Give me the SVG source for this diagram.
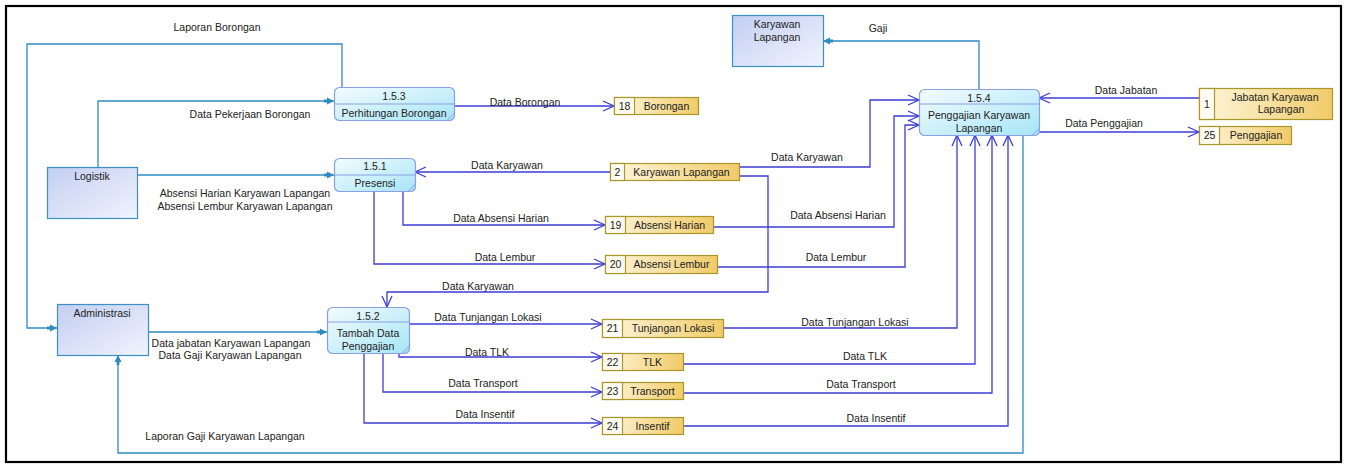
<svg xmlns="http://www.w3.org/2000/svg" width="1346" height="464" viewBox="0 0 1346 464">
<style>
text{font-family:"Liberation Sans",Arial,sans-serif;font-size:10.5px;fill:#222}
.c{text-anchor:middle}
.ent{fill:url(#gEnt);stroke:#3a8fc4;stroke-width:1.2}
.proc{fill:url(#gProc);stroke:#8a9fe6;stroke-width:1.2}
.st{fill:url(#gSt);stroke:#a8982c;stroke-width:1.2}
.stn{fill:#fffdf2;stroke:#a8982c;stroke-width:1.2}
.tl{fill:none;stroke:#2e8bc0;stroke-width:1.3;marker-end:url(#mT)}
.bl{fill:none;stroke:#3d3dd6;stroke-width:1.3;marker-end:url(#mB)}
.fold{stroke:#8a9fe6;stroke-width:1;fill:none}
</style>
<defs>
<linearGradient id="gEnt" x1="0" y1="0" x2="1" y2="1"><stop offset="0" stop-color="#c3cef2"/><stop offset="1" stop-color="#f1f4fd"/></linearGradient>
<linearGradient id="gProc" x1="0" y1="0" x2="1" y2="1"><stop offset="0" stop-color="#f4fcff"/><stop offset="1" stop-color="#a6e5f6"/></linearGradient>
<linearGradient id="gSt" x1="0" y1="0" x2="1" y2="0"><stop offset="0" stop-color="#fdf6de"/><stop offset="1" stop-color="#f1cb68"/></linearGradient>
<marker id="mT" markerUnits="userSpaceOnUse" markerWidth="14" markerHeight="10" refX="10" refY="5" orient="auto" viewBox="0 0 14 10">
<path d="M0,3.6 H4 V6.4 H0 Z M3,1.5 L10,5 L3,8.5 Z" fill="#2e8bc0"/>
</marker>
<marker id="mB" markerUnits="userSpaceOnUse" markerWidth="14" markerHeight="14" refX="12" refY="7" orient="auto" viewBox="0 0 14 14">
<path d="M1,2 L12,7 L1,12" fill="none" stroke="#3d3dd6" stroke-width="1.3"/>
</marker>
</defs>
<rect x="0" y="0" width="1346" height="464" fill="#fff"/>
<rect x="6" y="6" width="1335" height="456" fill="none" stroke="#000" stroke-width="2.2"/>

<g id="connectors">
<polyline class="tl" points="342,87 342,44 27,44 27,328 57,328"/>
<polyline class="tl" points="98,167 98,101 334,101"/>
<polyline class="tl" points="137,175 334,175"/>
<polyline class="tl" points="148,332 327,332"/>
<polyline class="tl" points="1023,135 1023,453 118,453 118,355"/>
<polyline class="tl" points="979,89 979,41 823,41"/>
<polyline class="bl" points="454,106 614,106"/>
<polyline class="bl" points="610,172 415,172"/>
<polyline class="bl" points="739,167 870,167 870,100 919,100"/>
<polyline class="bl" points="403,191 403,225 605,225"/>
<polyline class="bl" points="713,227 894,227 894,116 919,116"/>
<polyline class="bl" points="374,191 374,264 605,264"/>
<polyline class="bl" points="717,267 905,267 905,125 919,125"/>
<polyline class="bl" points="739,176 768,176 768,292 387,292 387,307"/>
<polyline class="bl" points="409,324 602,324"/>
<polyline class="bl" points="399,353 399,357 602,357"/>
<polyline class="bl" points="383,353 383,392 602,392"/>
<polyline class="bl" points="364,353 364,423 602,423"/>
<polyline class="bl" points="723,328 957,328 957,135"/>
<polyline class="bl" points="683,364 975,364 975,135"/>
<polyline class="bl" points="683,393 992,393 992,135"/>
<polyline class="bl" points="683,426 1008,426 1008,135"/>
<polyline class="bl" points="1199,98 1039,98"/>
<polyline class="bl" points="1039,132 1199,132"/>
<text class="c" x="217" y="31">Laporan Borongan</text>
<text class="c" x="250" y="117.5">Data Pekerjaan Borongan</text>
<text class="c" x="245" y="196.5">Absensi Harian Karyawan Lapangan</text>
<text class="c" x="245" y="209.5">Absensi Lembur Karyawan Lapangan</text>
<text class="c" x="231" y="346.5">Data jabatan Karyawan Lapangan</text>
<text class="c" x="230" y="359">Data Gaji Karyawan Lapangan</text>
<text class="c" x="225" y="439.5">Laporan Gaji Karyawan Lapangan</text>
<text class="c" x="878" y="31.5">Gaji</text>
<text class="c" x="525" y="105.5">Data Borongan</text>
<text class="c" x="507" y="168.5">Data Karyawan</text>
<text class="c" x="807" y="160.5">Data Karyawan</text>
<text class="c" x="501" y="221.5">Data Absensi Harian</text>
<text class="c" x="838" y="218.5">Data Absensi Harian</text>
<text class="c" x="505" y="260.5">Data Lembur</text>
<text class="c" x="836" y="260.5">Data Lembur</text>
<text class="c" x="478" y="289.5">Data Karyawan</text>
<text class="c" x="488" y="320.5">Data Tunjangan Lokasi</text>
<text class="c" x="487" y="355.5">Data TLK</text>
<text class="c" x="483" y="386.5">Data Transport</text>
<text class="c" x="485" y="417.5">Data Insentif</text>
<text class="c" x="855" y="325.5">Data Tunjangan Lokasi</text>
<text class="c" x="865" y="359.5">Data TLK</text>
<text class="c" x="861" y="387.5">Data Transport</text>
<text class="c" x="876" y="421.5">Data Insentif</text>
<text class="c" x="1126" y="93.5">Data Jabatan</text>
<text class="c" x="1104" y="126.5">Data Penggajian</text>
</g>

<g id="logistik">
<rect class="ent" x="47.5" y="167.5" width="90" height="51"/>
<text class="c" x="92" y="179.5">Logistik</text>
</g>
<g id="administrasi">
<rect class="ent" x="57.5" y="304.5" width="91" height="51"/>
<text class="c" x="102" y="316.5">Administrasi</text>
</g>
<g id="karyawan-lapangan-ext">
<rect class="ent" x="732.5" y="15.5" width="91" height="51"/>
<text class="c" x="777" y="27.5">Karyawan</text>
<text class="c" x="777" y="40.5">Lapangan</text>
</g>

<g id="p153">
<rect class="proc" x="334.5" y="87.5" width="120" height="33" rx="5"/>
<line class="fold" x1="334.5" y1="104" x2="454.5" y2="104"/>
<line class="fold" x1="447" y1="120.5" x2="454.5" y2="113"/>
<text class="c" x="394" y="99.5">1.5.3</text>
<text class="c" x="394" y="117">Perhitungan Borongan</text>
</g>
<g id="p151">
<rect class="proc" x="334.5" y="158.5" width="81" height="33" rx="5"/>
<line class="fold" x1="334.5" y1="175" x2="415.5" y2="175"/>
<line class="fold" x1="408" y1="191.5" x2="415.5" y2="184"/>
<text class="c" x="375" y="169.5">1.5.1</text>
<text class="c" x="375" y="186.5">Presensi</text>
</g>
<g id="p152">
<rect class="proc" x="327.5" y="307.5" width="82" height="46" rx="5"/>
<line class="fold" x1="327.5" y1="322" x2="409.5" y2="322"/>
<line class="fold" x1="402" y1="353.5" x2="409.5" y2="346"/>
<text class="c" x="368" y="319.5">1.5.2</text>
<text class="c" x="368" y="336.5">Tambah Data</text>
<text class="c" x="368" y="349.5">Penggajian</text>
</g>
<g id="p154">
<rect class="proc" x="919.5" y="89.5" width="120" height="46" rx="5"/>
<line class="fold" x1="919.5" y1="104" x2="1039.5" y2="104"/>
<line class="fold" x1="1032" y1="135.5" x2="1039.5" y2="128"/>
<text class="c" x="979" y="101.5">1.5.4</text>
<text class="c" x="979" y="118.5">Penggajian Karyawan</text>
<text class="c" x="979" y="131.5">Lapangan</text>
</g>

<g id="ds18">
<rect class="st" x="614.5" y="97.5" width="84" height="17"/>
<rect class="stn" x="614.5" y="97.5" width="20" height="17"/>
<text class="c" x="624.5" y="109.5">18</text>
<text class="c" x="666.5" y="109.5">Borongan</text>
</g>
<g id="ds2">
<rect class="st" x="610.5" y="163.5" width="129" height="17"/>
<rect class="stn" x="610.5" y="163.5" width="14" height="17"/>
<text class="c" x="617.5" y="175.5">2</text>
<text class="c" x="681.5" y="175.5">Karyawan Lapangan</text>
</g>
<g id="ds19">
<rect class="st" x="605.5" y="216.5" width="108" height="17"/>
<rect class="stn" x="605.5" y="216.5" width="20" height="17"/>
<text class="c" x="615.5" y="228.5">19</text>
<text class="c" x="669.5" y="228.5">Absensi Harian</text>
</g>
<g id="ds20">
<rect class="st" x="605.5" y="255.5" width="112" height="18"/>
<rect class="stn" x="605.5" y="255.5" width="20" height="18"/>
<text class="c" x="615.5" y="268">20</text>
<text class="c" x="671.5" y="268">Absensi Lembur</text>
</g>
<g id="ds21">
<rect class="st" x="602.5" y="319.5" width="121" height="18"/>
<rect class="stn" x="602.5" y="319.5" width="20" height="18"/>
<text class="c" x="612.5" y="332">21</text>
<text class="c" x="673" y="332">Tunjangan Lokasi</text>
</g>
<g id="ds22">
<rect class="st" x="602.5" y="353.5" width="81" height="17"/>
<rect class="stn" x="602.5" y="353.5" width="20" height="17"/>
<text class="c" x="612.5" y="365.5">22</text>
<text class="c" x="652.5" y="365.5">TLK</text>
</g>
<g id="ds23">
<rect class="st" x="602.5" y="382.5" width="81" height="17"/>
<rect class="stn" x="602.5" y="382.5" width="20" height="17"/>
<text class="c" x="612.5" y="394.5">23</text>
<text class="c" x="652.5" y="394.5">Transport</text>
</g>
<g id="ds24">
<rect class="st" x="602.5" y="417.5" width="81" height="17"/>
<rect class="stn" x="602.5" y="417.5" width="20" height="17"/>
<text class="c" x="612.5" y="429.5">24</text>
<text class="c" x="652.5" y="429.5">Insentif</text>
</g>
<g id="ds1">
<rect class="st" x="1199.5" y="88.5" width="133" height="31"/>
<rect class="stn" x="1199.5" y="88.5" width="15" height="31"/>
<text class="c" x="1207" y="107.5">1</text>
<text class="c" x="1275" y="101">Jabatan Karyawan</text>
<text class="c" x="1281" y="113">Lapangan</text>
</g>
<g id="ds25">
<rect class="st" x="1199.5" y="126.5" width="92" height="18"/>
<rect class="stn" x="1199.5" y="126.5" width="20" height="18"/>
<text class="c" x="1209.5" y="139">25</text>
<text class="c" x="1256" y="139">Penggajian</text>
</g>
</svg>
